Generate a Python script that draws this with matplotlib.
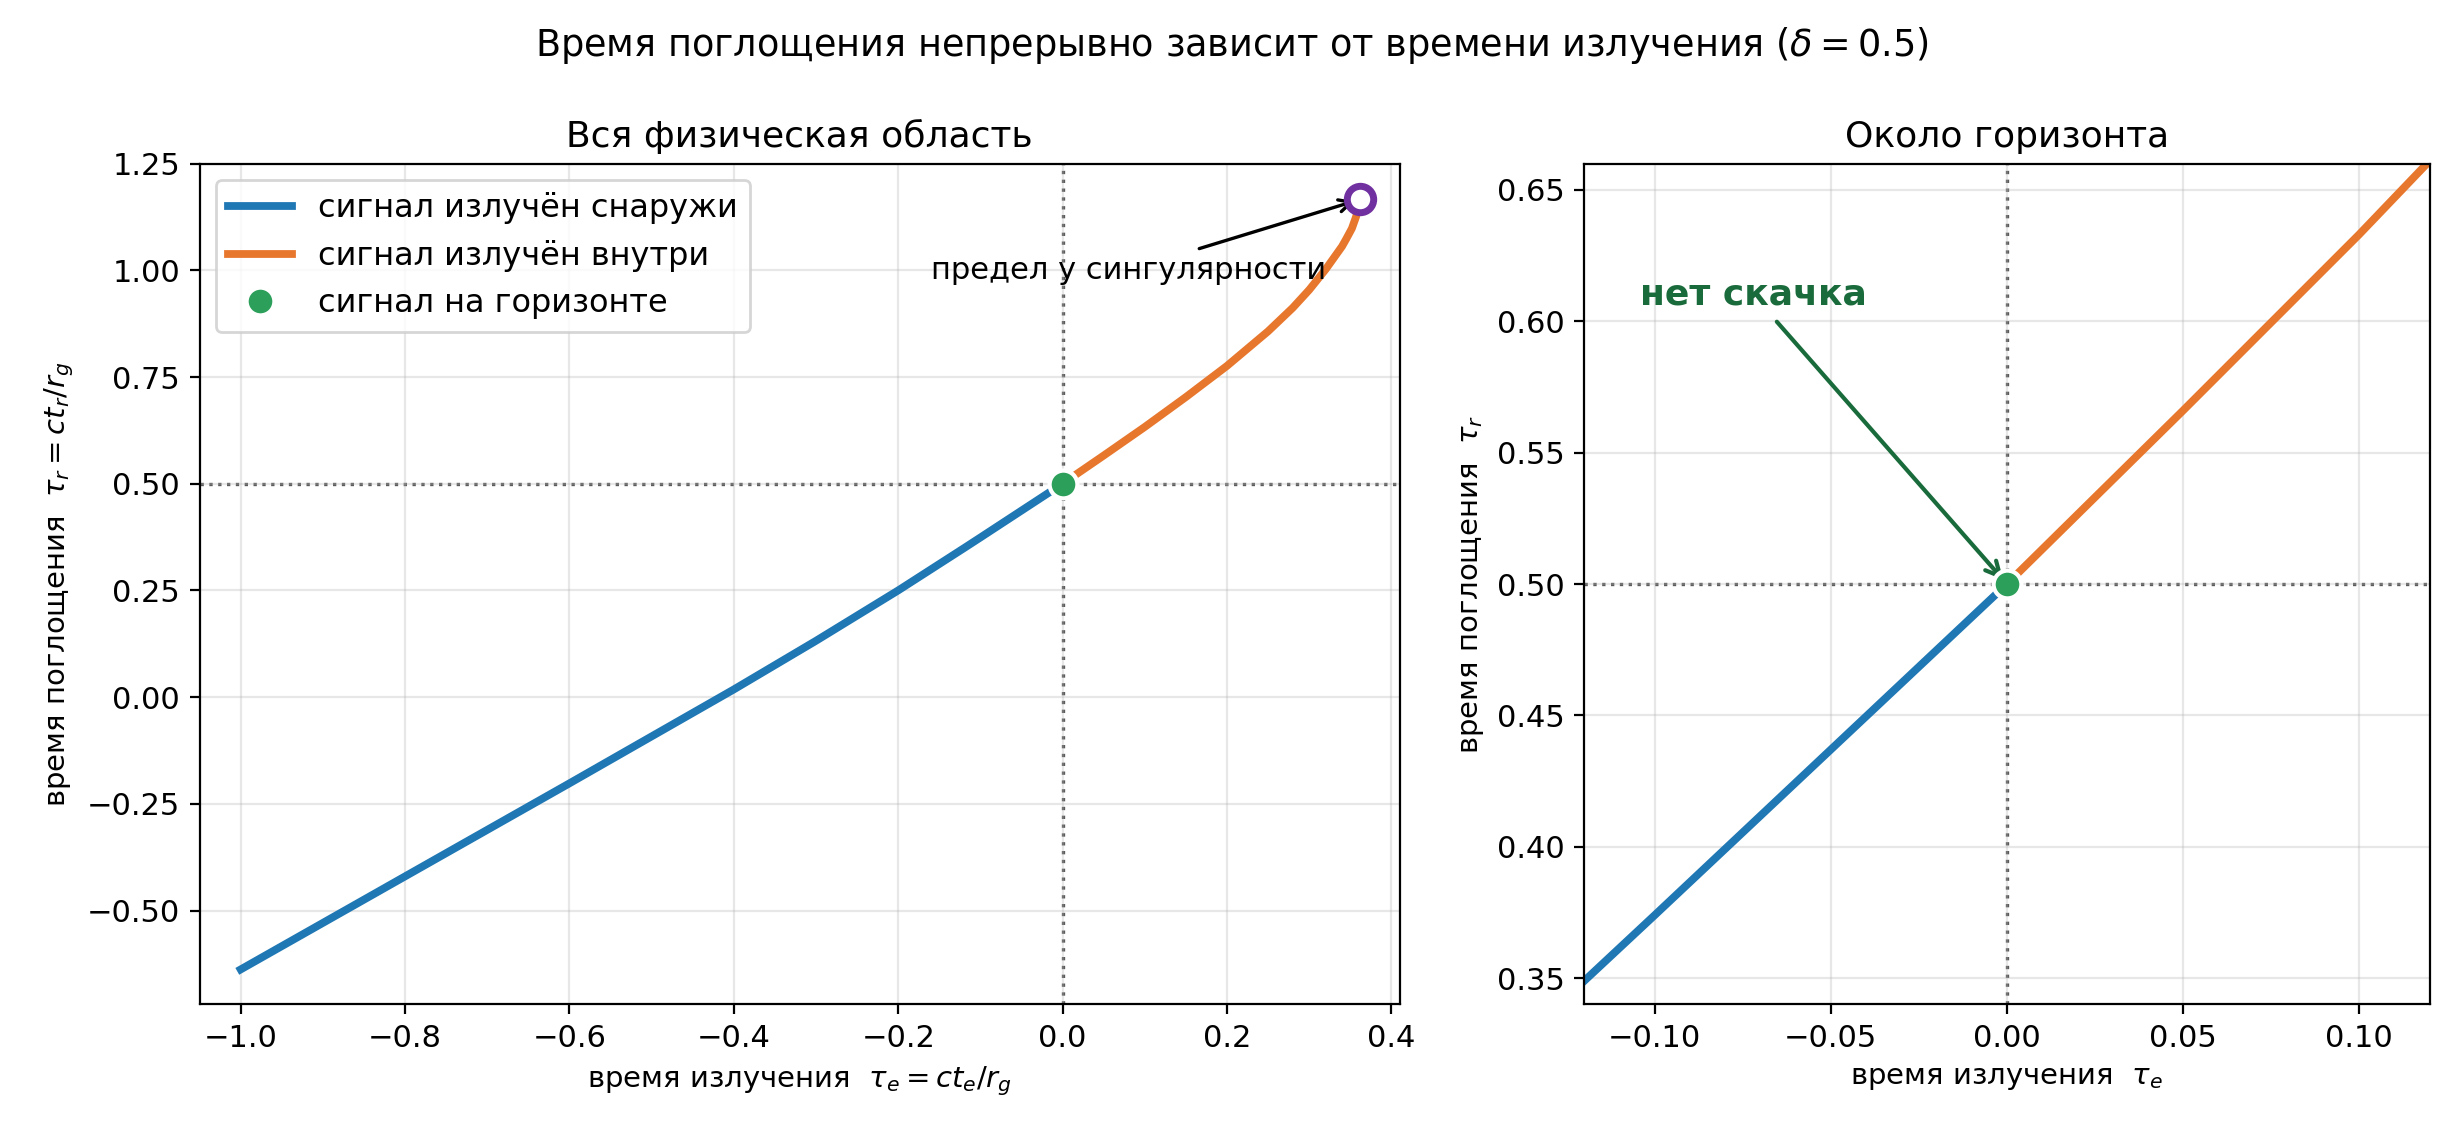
import numpy as np
import matplotlib.pyplot as plt

# значения
te_out = [-1.0, -0.9, -0.8, -0.7, -0.6, -0.5, -0.4, -0.3, -0.2, -0.12, -0.1, -0.05, 0.0]
tr_out = [-0.638, -0.529, -0.42, -0.311, -0.202, -0.092, 0.018, 0.132, 0.250, 0.349, 0.374, 0.437, 0.5]

te_in = [0.0, 0.05, 0.10, 0.15, 0.20, 0.25, 0.28, 0.30, 0.32, 0.34, 0.345, 0.352, 0.357, 0.3605, 0.362]
tr_in = [0.5, 0.566, 0.633, 0.703, 0.776, 0.857, 0.912, 0.954, 1.002, 1.056, 1.073, 1.098, 1.125, 1.148, 1.166]

te_hor, tr_hor = 0.0, 0.5
te_sing, tr_sing = 0.362, 1.166

c_out = "#1f77b4"
c_in = "#e8772e"
c_hor = "#2ca05a"
c_sing = "#7030a0"
c_note = "#1a6b3c"

plt.rcParams["font.size"] = 11
plt.rcParams["axes.labelsize"] = 10.5

fig = plt.figure(figsize=(12.32, 5.72), dpi=200)
ax1 = fig.add_axes([0.081, 0.122, 0.487, 0.735])
ax2 = fig.add_axes([0.643, 0.122, 0.343, 0.735])

for ax in (ax1, ax2):
    ax.grid(True, alpha=0.3)
    ax.axvline(te_hor, color="0.35", ls=":", lw=1.2, zorder=1)
    ax.axhline(tr_hor, color="0.35", ls=":", lw=1.2, zorder=1)
    ax.plot(te_out, tr_out, color=c_out, lw=2.8, label="сигнал излучён снаружи", zorder=2)
    ax.plot(te_in, tr_in, color=c_in, lw=2.8, label="сигнал излучён внутри", zorder=2)
    ax.plot([te_hor], [tr_hor], "o", color=c_hor, ms=10, mec="white", mew=1.5,
            ls="", label="сигнал на горизонте", zorder=4)

ax1.plot([te_sing], [tr_sing], "o", mfc="white", mec=c_sing, ms=9.5, mew=2.5, zorder=5)
ax1.annotate("предел у сингулярности", xy=(te_sing, tr_sing), xytext=(0.08, 1.0),
             ha="center", va="center", fontsize=11,
             arrowprops=dict(arrowstyle="->", color="black", lw=1.2))
ax1.set_xlim(-1.05, 0.41)
ax1.set_ylim(-0.72, 1.25)
ax1.set_title("Вся физическая область", fontsize=13)
ax1.set_xlabel(r"время излучения  $\tau_e = ct_e/r_g$")
ax1.set_ylabel(r"время поглощения  $\tau_r = ct_r/r_g$")
ax1.legend(loc="upper left", fontsize=11.5)

ax2.annotate("нет скачка", xy=(te_hor, tr_hor), xytext=(-0.072, 0.61),
             ha="center", va="center", fontsize=13, fontweight="bold", color=c_note,
             arrowprops=dict(arrowstyle="->", color=c_note, lw=1.5))
ax2.set_xlim(-0.12, 0.12)
ax2.set_ylim(0.34, 0.66)
ax2.set_title("Около горизонта", fontsize=13)
ax2.set_xlabel(r"время излучения  $\tau_e$")
ax2.set_ylabel(r"время поглощения  $\tau_r$")

fig.suptitle(r"Время поглощения непрерывно зависит от времени излучения ($\delta = 0.5$)",
             fontsize=13.2, y=0.978)

plt.savefig("out.png", dpi=200)
